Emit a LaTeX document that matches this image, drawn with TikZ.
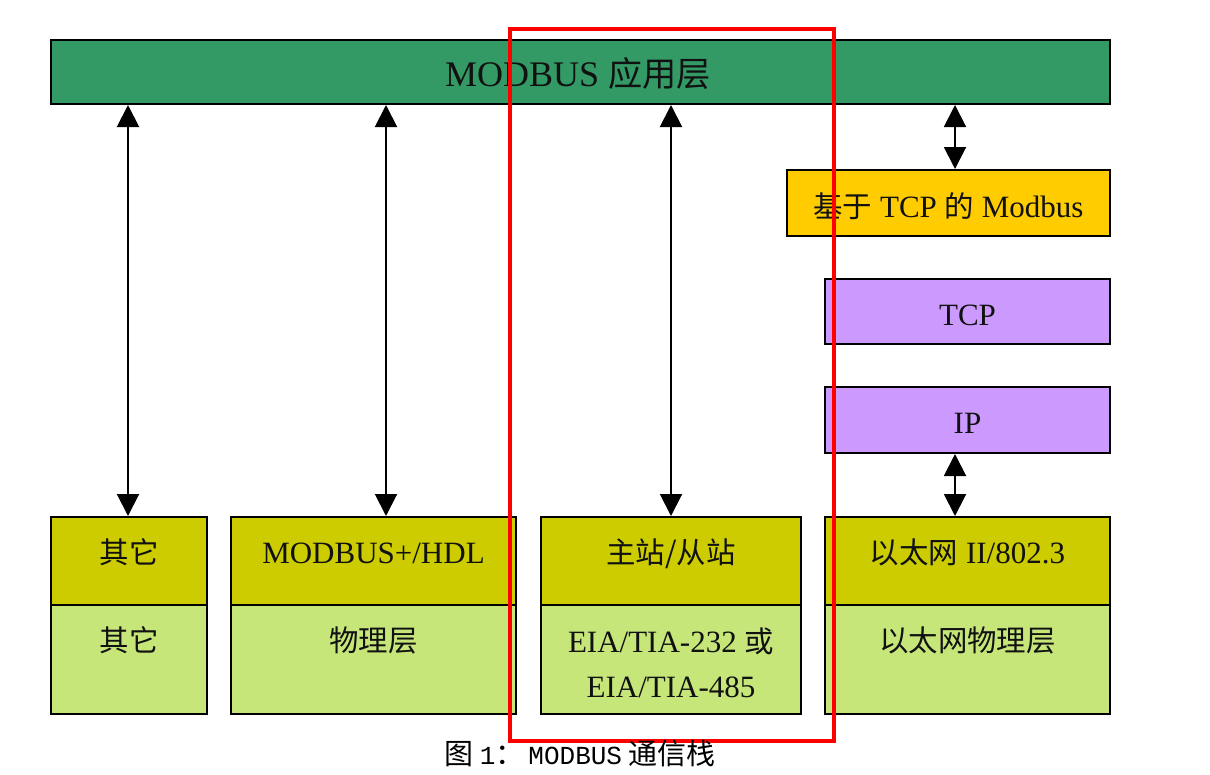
\documentclass[tikz,border=0pt]{standalone}
\usepackage{fontspec}
\setmainfont{Liberation Serif}
\newfontfamily\cjk[Scale=0.95]{Noto Sans CJK SC}
\newfontfamily\capcjk{Noto Sans CJK SC}
\newfontfamily\capmono{Liberation Mono}
\usetikzlibrary{arrows.meta}
\newcommand{\zh}[1]{{\cjk #1}}
\definecolor{appgreen}{HTML}{339A66}
\definecolor{tcporange}{HTML}{FFCC00}
\definecolor{tcppurple}{HTML}{CC99FF}
\definecolor{olive}{HTML}{CCCC00}
\definecolor{lightgreen}{HTML}{C6E67A}
\definecolor{ink}{HTML}{111111}
\begin{document}
\begin{tikzpicture}[x=1pt,y=-1pt,
  box/.style={draw=black, line width=2pt, inner sep=0pt},
  lbl/.style={anchor=base, inner sep=0pt, font=\fontsize{31}{45}\selectfont, text=ink, align=center},
  dbl/.style={line width=2pt, {Triangle[length=22pt,width=22pt]}-{Triangle[length=22pt,width=22pt]}}
]
\useasboundingbox[fill=white] (0,0) rectangle (1210,774);

% top application layer
\node[box, fill=appgreen, minimum width=1059pt, minimum height=64pt] (app) at (580.5,72) {};
\node[lbl, font=\fontsize{36}{40}\selectfont] (appt) at (578,86) {MODBUS \zh{应用层}};

% TCP/IP stack
\node[box, fill=tcporange, minimum width=323pt, minimum height=66pt] (tmb) at (948.5,203) {};
\node[lbl] (tmbt) at (948.5,217) {\zh{基于} TCP \zh{的} Modbus};
\node[box, fill=tcppurple, minimum width=285pt, minimum height=65pt] (tcp) at (967.5,311.5) {};
\node[lbl] (tcpt) at (967.5,325) {TCP};
\node[box, fill=tcppurple, minimum width=285pt, minimum height=66pt] (ip) at (967.5,420) {};
\node[lbl] (ipt) at (967.5,433) {IP};

% bottom boxes: upper parts
\node[box, fill=olive, minimum width=156pt, minimum height=88pt] (m1) at (129,561) {};
\node[box, fill=olive, minimum width=285pt, minimum height=88pt] (m2) at (373.5,561) {};
\node[box, fill=olive, minimum width=260pt, minimum height=88pt] (m3) at (671,561) {};
\node[box, fill=olive, minimum width=285pt, minimum height=88pt] (m4) at (967.5,561) {};
% lower parts
\node[box, fill=lightgreen, minimum width=156pt, minimum height=109pt] (p1) at (129,659.5) {};
\node[box, fill=lightgreen, minimum width=285pt, minimum height=109pt] (p2) at (373.5,659.5) {};
\node[box, fill=lightgreen, minimum width=260pt, minimum height=109pt] (p3) at (671,659.5) {};
\node[box, fill=lightgreen, minimum width=285pt, minimum height=109pt] (p4) at (967.5,659.5) {};

\node[lbl] (m1t) at (129,563) {\zh{其它}};
\node[lbl] (m2t) at (373.5,563) {MODBUS+/HDL};
\node[lbl] (m3t) at (671,563) {\zh{主站/从站}};
\node[lbl] (m4t) at (967.5,563) {\zh{以太网} II/802.3};
\node[lbl] (p1t) at (129,651) {\zh{其它}};
\node[lbl] (p2t) at (373.5,651) {\zh{物理层}};
\node[lbl] (p3t) at (671,697) {EIA/TIA-232 \zh{或}\\EIA/TIA-485};
\node[lbl] (p4t) at (967.5,651) {\zh{以太网物理层}};

% arrows
\coordinate (a1) at (128,0);
\coordinate (a2) at (386,0);
\coordinate (a3) at (671,0);
\coordinate (a4) at (955,0);
\draw[dbl] (app.south -| a1) -- (m1.north -| a1);
\draw[dbl] (app.south -| a2) -- (m2.north -| a2);
\draw[dbl] (app.south -| a3) -- (m3.north -| a3);
\draw[dbl] (app.south -| a4) -- (tmb.north -| a4);
\draw[dbl] (ip.south -| a4) -- (m4.north -| a4);

% highlight frame
\draw[red, line width=4pt] (510,29) rectangle (834,741);

% caption
\node[anchor=base, inner sep=0pt, text=black, font=\fontsize{29}{30}\selectfont] (cap) at (580,764)
  {\capcjk 图 {\fontsize{26}{30}\selectfont\capmono 1}：\hspace{4pt}{\fontsize{26}{30}\selectfont\capmono MODBUS} 通信栈};
\end{tikzpicture}
\end{document}
